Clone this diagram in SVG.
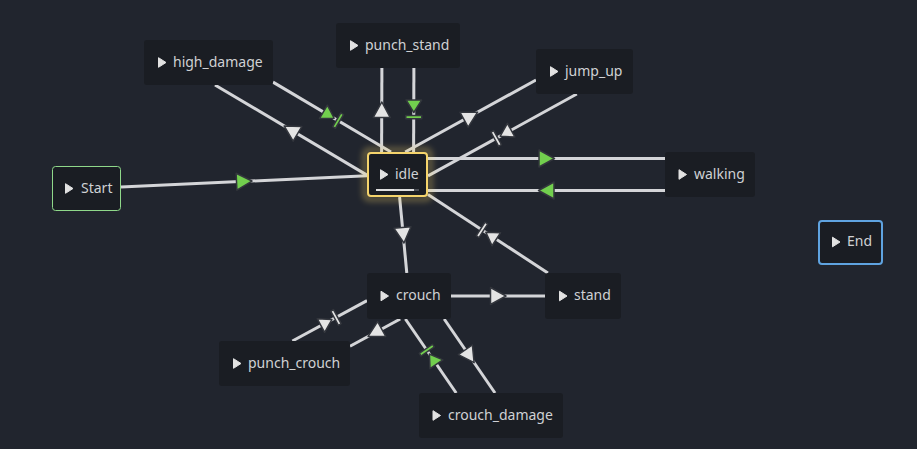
<svg xmlns="http://www.w3.org/2000/svg" xmlns:xlink="http://www.w3.org/1999/xlink" width="917" height="449" viewBox="0 0 917 449">
<style>
.bg{fill:#21252e}
.node{fill:#1a1d23}
.lbl{font-family:"Noto Sans","Open Sans",sans-serif;font-size:14px;fill:#cfd1d4}
.play{fill:#e2e2e2;stroke:#e2e2e2;stroke-width:1;stroke-linejoin:round}
.edge{stroke:#d4d5d8;stroke-width:3;fill:none}
.w{fill:#e4e4e4;stroke:#33363d;stroke-width:1.5;stroke-linejoin:round}
.g{fill:#72cf4e;stroke:#33363d;stroke-width:1.5;stroke-linejoin:round}
</style>
<defs>
<path id="tri" d="M8,0 L-7.5,-8.5 L-7.5,8.5 Z"/>
<g id="endm"><path d="M2.5,0 L-10,-7.8 L-10,7.8 Z"/><rect x="5.5" y="-8" width="3.2" height="16"/></g>
<path id="pl" d="M0,-4.8 L7.5,0 L0,4.8 Z"/>
<filter id="glow" x="-50%" y="-50%" width="200%" height="200%"><feGaussianBlur stdDeviation="3"/></filter>
</defs>
<rect class="bg" x="0" y="0" width="917" height="449"/>

<g id="connectors">
<line class="edge" x1="273" y1="82.1" x2="391" y2="152"/>
<line class="edge" x1="367" y1="175.1" x2="215" y2="85"/>
<line class="edge" x1="413.9" y1="68" x2="413.6" y2="152"/>
<line class="edge" x1="381.6" y1="152" x2="381.9" y2="68"/>
<line class="edge" x1="405.2" y1="152" x2="536" y2="80"/>
<line class="edge" x1="576.8" y1="94" x2="428" y2="175.9"/>
<line class="edge" x1="428" y1="158.5" x2="665" y2="158.5"/>
<line class="edge" x1="665" y1="190.5" x2="428" y2="190.5"/>
<line class="edge" x1="547.9" y1="273" x2="428" y2="194.5"/>
<line class="edge" x1="399.6" y1="197" x2="406.8" y2="273"/>
<line class="edge" x1="451" y1="296" x2="545" y2="296"/>
<line class="edge" x1="400.2" y1="319" x2="350" y2="346.2"/>
<line class="edge" x1="292.4" y1="341" x2="367" y2="300.6"/>
<line class="edge" x1="444.2" y1="319" x2="495" y2="393"/>
<line class="edge" x1="456.2" y1="393" x2="405.4" y2="319"/>
<line class="edge" x1="121" y1="186.95" x2="367" y2="175.87"/>

<use xlink:href="#endm" class="g" transform="translate(332,117) rotate(30.65)"/>
<use xlink:href="#tri" class="w" transform="translate(291,130) rotate(210.65)"/>
<use xlink:href="#endm" class="g" transform="translate(413.8,110) rotate(90.2)"/>
<use xlink:href="#tri" class="w" transform="translate(381.8,110) rotate(-89.8)"/>
<use xlink:href="#tri" class="w" transform="translate(470.6,116) rotate(-28.85)"/>
<use xlink:href="#endm" class="w" transform="translate(502.4,135) rotate(151.15)"/>
<use xlink:href="#tri" class="g" transform="translate(546.5,158.5) rotate(0)"/>
<use xlink:href="#tri" class="g" transform="translate(546.5,190.5) rotate(180)"/>
<use xlink:href="#endm" class="w" transform="translate(487.95,233.74) rotate(213.22)"/>
<use xlink:href="#tri" class="w" transform="translate(403.2,235) rotate(84.59)"/>
<use xlink:href="#tri" class="w" transform="translate(498,296) rotate(0)"/>
<use xlink:href="#tri" class="w" transform="translate(375.1,332.6) rotate(151.53)"/>
<use xlink:href="#endm" class="w" transform="translate(329.7,320.8) rotate(-28.47)"/>
<use xlink:href="#tri" class="w" transform="translate(469.6,356) rotate(55.54)"/>
<use xlink:href="#endm" class="g" transform="translate(430.8,356) rotate(235.54)"/>
<use xlink:href="#tri" class="g" transform="translate(244,181.4) rotate(-2.58)"/>
</g>

<g id="node-high_damage">
<rect class="node" x="144" y="40" width="129" height="45" rx="3"/>
<use xlink:href="#pl" class="play" transform="translate(158.5,62.5)"/>
<text class="lbl" x="173" y="66.5">high_damage</text>
</g>
<g id="node-punch_stand">
<rect class="node" x="336" y="23" width="124" height="45" rx="3"/>
<use xlink:href="#pl" class="play" transform="translate(350.5,45.5)"/>
<text class="lbl" x="365" y="49.5">punch_stand</text>
</g>
<g id="node-jump_up">
<rect class="node" x="536" y="49" width="97" height="45" rx="3"/>
<use xlink:href="#pl" class="play" transform="translate(550.5,71.5)"/>
<text class="lbl" x="565" y="75.5">jump_up</text>
</g>
<g id="node-idle">
<rect x="365" y="150" width="65" height="49" rx="4" fill="none" stroke="#f5d46c" stroke-width="4" opacity="0.45" filter="url(#glow)"/>
<rect class="node" x="368" y="153" width="59" height="43" rx="3" stroke="#f5d46c" stroke-width="2"/>
<use xlink:href="#pl" class="play" transform="translate(380.5,174.5)"/>
<text class="lbl" x="395" y="178.5">idle</text>
<rect x="376" y="189" width="43" height="2" fill="#4b4e56"/>
<rect x="376" y="189" width="38" height="2" fill="#dedede"/>
</g>
<g id="node-Start">
<rect class="node" x="52.5" y="166.5" width="68" height="44" rx="3" stroke="#8fd88a" stroke-width="1"/>
<use xlink:href="#pl" class="play" transform="translate(65.5,188.5)"/>
<text class="lbl" x="81" y="192.5">Start</text>
</g>
<g id="node-walking">
<rect class="node" x="665" y="152" width="90" height="45" rx="3"/>
<use xlink:href="#pl" class="play" transform="translate(679,174.5)"/>
<text class="lbl" x="694" y="178.5">walking</text>
</g>
<g id="node-stand">
<rect class="node" x="545" y="273" width="76" height="46" rx="3"/>
<use xlink:href="#pl" class="play" transform="translate(559.5,296)"/>
<text class="lbl" x="574" y="300">stand</text>
</g>
<g id="node-crouch">
<rect class="node" x="367" y="273" width="84" height="46" rx="3"/>
<use xlink:href="#pl" class="play" transform="translate(381,296)"/>
<text class="lbl" x="396" y="300">crouch</text>
</g>
<g id="node-punch_crouch">
<rect class="node" x="219" y="341" width="131" height="45" rx="3"/>
<use xlink:href="#pl" class="play" transform="translate(233.5,363.5)"/>
<text class="lbl" x="248" y="367.5">punch_crouch</text>
</g>
<g id="node-crouch_damage">
<rect class="node" x="419" y="393" width="144" height="45" rx="3"/>
<use xlink:href="#pl" class="play" transform="translate(433,415.5)"/>
<text class="lbl" x="448" y="419.5">crouch_damage</text>
</g>
<g id="node-End">
<rect class="node" x="819" y="221" width="63" height="43" rx="3" stroke="#5fa3e0" stroke-width="2"/>
<use xlink:href="#pl" class="play" transform="translate(832.5,242)"/>
<text class="lbl" x="847" y="246">End</text>
</g>
</svg>
